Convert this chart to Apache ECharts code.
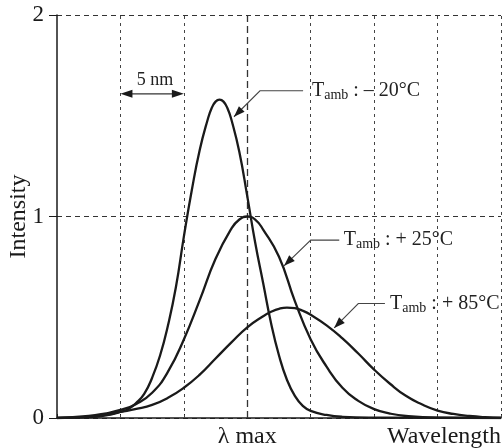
<!DOCTYPE html>
<html>
<head>
<meta charset="utf-8">
<script src="https://cdn.jsdelivr.net/npm/echarts@6/dist/echarts.min.js"></script>
<style>
  html, body { margin: 0; padding: 0; background: #fff; }
  #chart { width: 502px; height: 448px; }
</style>
</head>
<body>
<div id="chart"></div>
<script>
// wavelength in grid steps (1 step = 5 nm), lambda max at 3
var xCold = [0, 0.5, 0.75, 1.0, 1.125, 1.25, 1.375, 1.5, 1.625, 1.75, 1.875, 2.0, 2.125, 2.25, 2.375, 2.4375, 2.5, 2.5625, 2.625, 2.6875, 2.75, 2.875, 3.0, 3.125, 3.25, 3.375, 3.5, 3.625, 3.75, 3.875, 4.0, 4.25, 4.5, 5.0, 7.0];
var yCold = [0, 0.004, 0.012, 0.03, 0.045, 0.075, 0.12, 0.2, 0.31, 0.46, 0.65, 0.9, 1.13, 1.33, 1.48, 1.537, 1.57, 1.58, 1.57, 1.537, 1.48, 1.32, 1.1, 0.87, 0.67, 0.47, 0.31, 0.19, 0.11, 0.06, 0.035, 0.015, 0.006, 0.002, 0];

var xRoom = [0, 0.5, 0.75, 1.0, 1.25, 1.5, 1.75, 2.0, 2.25, 2.5, 2.75, 2.875, 3.0, 3.125, 3.25, 3.5, 3.75, 4.0, 4.25, 4.5, 4.75, 5.0, 5.25, 5.5, 6.0, 7.0];
var yRoom = [0, 0.01, 0.022, 0.04, 0.07, 0.125, 0.23, 0.39, 0.585, 0.79, 0.94, 0.985, 1.0, 0.985, 0.935, 0.8, 0.58, 0.39, 0.255, 0.15, 0.085, 0.044, 0.022, 0.01, 0.002, 0];

var xHot = [0, 0.5, 0.75, 1.0, 1.25, 1.5, 1.75, 2.0, 2.25, 2.5, 2.75, 3.0, 3.25, 3.375, 3.5, 3.625, 3.75, 3.875, 4.0, 4.25, 4.5, 4.75, 5.0, 5.25, 5.5, 5.75, 6.0, 6.25, 6.5, 6.75, 7.0];
var yHot = [0, 0.006, 0.015, 0.03, 0.045, 0.065, 0.1, 0.15, 0.215, 0.295, 0.375, 0.45, 0.505, 0.527, 0.542, 0.548, 0.545, 0.532, 0.512, 0.46, 0.395, 0.32, 0.24, 0.17, 0.11, 0.068, 0.037, 0.02, 0.01, 0.004, 0.001];

var dottedX = [1, 2, 4, 5, 6, 7];
var peakX = [3];
var xTickLabels = {3: 'λ max', 7: 'Wavelength'};
var yTicks = [0, 1, 2];

var serif = '"Liberation Serif", "DejaVu Serif", serif';
var ink = '#1a1a1a';

function pairs(xs, ys) {
    var out = [];
    for (var i = 0; i < xs.length; i++) out.push([xs[i], ys[i]]);
    return out;
}

function curve(name, xs, ys) {
    return {
        name: name,
        type: 'line',
        data: pairs(xs, ys),
        smooth: 0.5,
        showSymbol: false,
        silent: true,
        lineStyle: {color: ink, width: 2.3},
        z: 5
    };
}

var chart = echarts.init(document.getElementById('chart'), null, {renderer: 'canvas'});

var option = {
    animation: false,
    backgroundColor: '#fff',
    grid: {left: 57, right: 1, top: 15, bottom: 30, containLabel: false, outerBoundsMode: 'none'},
    xAxis: {
        type: 'value',
        min: 0, max: 7, interval: 1,
        axisLine: {lineStyle: {color: ink, width: 1.5}},
        axisTick: {inside: true, length: 4, lineStyle: {color: ink}},
        splitLine: {show: false},
        axisLabel: {
            margin: 7,
            fontFamily: serif, fontSize: 24, color: ink,
            alignMaxLabel: 'right',
            formatter: function (v) { return xTickLabels[v] || ''; }
        }
    },
    yAxis: {
        type: 'value',
        min: 0, max: 2, interval: 1,
        name: 'Intensity',
        nameLocation: 'middle',
        nameGap: 26,
        nameMoveOverlap: false,
        nameTextStyle: {fontFamily: serif, fontSize: 24, color: ink},
        axisLine: {show: true, lineStyle: {color: ink, width: 1.5}},
        axisTick: {show: true, length: 8, lineStyle: {color: ink}},
        axisLabel: {
            margin: 13,
            fontFamily: serif, fontSize: 23, color: ink,
            formatter: function (v) { return yTicks.indexOf(v) >= 0 ? String(v) : ''; }
        },
        splitLine: {show: true, lineStyle: {color: '#333', width: 1, type: [5, 4]}}
    },
    series: [
        curve('-20', xCold, yCold),
        curve('25', xRoom, yRoom),
        curve('85', xHot, yHot),
        {
            type: 'line',
            data: [],
            silent: true,
            markLine: {
                silent: true,
                symbol: 'none',
                label: {show: false},
                lineStyle: {color: '#444', width: 1, type: [3, 4]},
                data: dottedX.map(function (x) { return {xAxis: x}; })
                    .concat(peakX.map(function (x) {
                        return {xAxis: x, lineStyle: {color: '#333', width: 1.3, type: [7, 4]}};
                    }))
            },
            z: 1
        }
    ]
};
chart.setOption(option);

// annotations, placed in data units
function px(p) { return chart.convertToPixel({gridIndex: 0}, p); }

function arrowHead(tip, from, len, half) {
    var dx = tip[0] - from[0], dy = tip[1] - from[1];
    var d = Math.sqrt(dx * dx + dy * dy);
    var ux = dx / d, uy = dy / d;
    var bx = tip[0] - ux * len, by = tip[1] - uy * len;
    return {
        type: 'polygon',
        shape: {points: [tip, [bx - uy * half, by + ux * half], [bx + uy * half, by - ux * half]]},
        style: {fill: ink},
        z: 20
    };
}

var graphics = [];

function callout(textAt, path, label) {
    var pts = path.map(px);
    graphics.push({
        type: 'polyline',
        shape: {points: pts},
        style: {stroke: '#444', lineWidth: 1.1, fill: null},
        z: 20
    });
    graphics.push(arrowHead(pts[pts.length - 1], pts[pts.length - 2], 11, 4));
    var t = px(textAt);
    graphics.push({
        type: 'text',
        x: t[0], y: t[1],
        style: {
            text: '{t|T}{s|amb}{t| : ' + label + '}',
            verticalAlign: 'middle',
            fill: '#222',
            rich: {
                t: {fontFamily: serif, fontSize: 20, fill: '#222'},
                s: {fontFamily: serif, fontSize: 14, fill: '#222', padding: [9, 0, 0, 0]}
            }
        },
        z: 20
    });
}

callout([4.02, 1.624], [[3.88, 1.624], [3.2, 1.624], [2.79, 1.495]], '– 20°C');
callout([4.52, 0.883], [[4.45, 0.883], [4.0, 0.883], [3.58, 0.755]], '+ 25°C');
callout([5.25, 0.568], [[5.17, 0.568], [4.75, 0.568], [4.37, 0.447]], '+ 85°C');

// 5 nm span marker
var a = px([1, 1.609]), b = px([2, 1.609]);
graphics.push({
    type: 'line',
    shape: {x1: a[0] + 6, y1: a[1], x2: b[0] - 6, y2: b[1]},
    style: {stroke: '#333', lineWidth: 1.3},
    z: 20
});
graphics.push(arrowHead(a, b, 12, 4));
graphics.push(arrowHead(b, a, 12, 4));
var nm = px([1.545, 1.674]);
graphics.push({
    type: 'text',
    x: nm[0], y: nm[1],
    style: {text: '5 nm', align: 'center', verticalAlign: 'middle', fill: '#222', fontFamily: serif, fontSize: 18},
    z: 20
});

chart.setOption({graphic: graphics});
</script>
</body>
</html>
